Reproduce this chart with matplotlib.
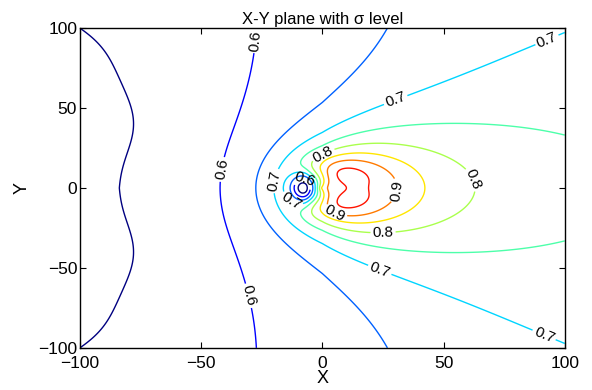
import numpy as np
import matplotlib
matplotlib.use("Agg")
import matplotlib.pyplot as plt
from matplotlib.colors import Normalize


# contour levels and which ones carry a text label
LEVELS = [0.55, 0.60, 0.65, 0.70, 0.75, 0.80, 0.85, 0.90, 0.95, 1.00]
LABEL_LEVELS = [0.60, 0.70, 0.80, 0.90]

# where the labels sit (data coords)
LABEL_X = [-26.6, -26.6, -39.0, -21.6, 30.0, 92.0, 24.0, 92.0, 1.0, 25.0, 60.0, 6.0, 28.0, -8.0, -12.6]
LABEL_Y = [92.0, -66.0, 11.0, 5.0, 56.0, 95.0, -50.0, -90.0, 19.0, -25.0, 4.0, -12.5, -1.0, 2.0, -7.5]

TICKS = [-100, -50, 0, 50, 100]

# sigma field: background ramp + wake source + small dip left of the source
BASE_LEVEL = 0.62
UPSTREAM_SLOPE = 0.0008
DOWNSTREAM_RISE = 0.07
DOWNSTREAM_SCALE = 87.5
SOURCE_STRENGTH = 8.8
SOURCE_CORE = 13.0
WAKE_LENGTH = 32.0
WAKE_SPREAD = 10.0
DIP_DEPTH = 0.48
DIP_CENTER = -6.0
DIP_WIDTH_LEFT = 5.0
DIP_WIDTH_RIGHT = 12.6
DIP_HEIGHT = 7.0
# small ripple on the far-left edge
RIPPLE_OFFSET = -0.0038
RIPPLE_EDGE = 0.0138
RIPPLE_POWER = 5.5
RIPPLE_BUMP = 0.0075
RIPPLE_Y = 40.0
RIPPLE_WIDTH = 23.4
RIPPLE_REACH = 40.0


def sigma_field(x, y):
    r = np.hypot(x, y)
    background = np.where(
        x < 0,
        BASE_LEVEL + UPSTREAM_SLOPE * x,
        BASE_LEVEL + DOWNSTREAM_RISE * np.tanh(x / DOWNSTREAM_SCALE),
    )
    cos_t = np.clip(x / np.maximum(r, 1e-9), 0.0, 1.0)
    wake = WAKE_LENGTH + WAKE_SPREAD * cos_t
    source = SOURCE_STRENGTH / np.sqrt(r ** 2 + SOURCE_CORE ** 2) * np.exp(-(r - x) / wake)
    sx = np.where(x < DIP_CENTER, DIP_WIDTH_LEFT, DIP_WIDTH_RIGHT)
    dip = DIP_DEPTH * np.exp(-0.5 * ((x - DIP_CENTER) / sx) ** 2 - 0.5 * (y / DIP_HEIGHT) ** 2)
    ripple = (
        RIPPLE_OFFSET
        + RIPPLE_EDGE * np.abs(y / 100.0) ** RIPPLE_POWER
        - RIPPLE_BUMP * np.exp(-((np.abs(y) - RIPPLE_Y) / RIPPLE_WIDTH) ** 2)
    ) * np.exp(-((x + 100.0) / RIPPLE_REACH) ** 2)
    return background + source - dip + ripple


def main():
    plt.rcParams["font.family"] = ["Liberation Sans", "DejaVu Sans"]

    xs = np.linspace(-100, 100, 401)
    ys = np.linspace(-100, 100, 401)
    X, Y = np.meshgrid(xs, ys)
    Z = sigma_field(X, Y)

    fig = plt.figure(figsize=(5.92, 3.9), dpi=100)
    ax = fig.add_axes([0.135, 0.108, 0.819, 0.820])

    norm = Normalize(vmin=min(LEVELS), vmax=max(LEVELS))
    plain_levels = [lv for lv in LEVELS if lv not in LABEL_LEVELS]

    ax.contour(X, Y, Z, levels=plain_levels, cmap="jet", norm=norm, linewidths=1.0)
    cs = ax.contour(X, Y, Z, levels=LABEL_LEVELS, cmap="jet", norm=norm, linewidths=1.0)
    ax.clabel(
        cs,
        manual=list(zip(LABEL_X, LABEL_Y)),
        inline=True,
        inline_spacing=2,
        fmt="%.1f",
        fontsize=11,
        colors="black",
    )

    ax.set_xlim(-100, 100)
    ax.set_ylim(-100, 100)
    ax.set_xticks(TICKS)
    ax.set_yticks(TICKS)
    ax.tick_params(direction="in", length=4, width=0.8, labelsize=12.5,
                   top=True, right=True)
    ax.tick_params(axis="x", pad=6)
    ax.tick_params(axis="y", pad=2)
    for spine in ax.spines.values():
        spine.set_linewidth(1.0)

    ax.set_xlabel("X", fontsize=13, labelpad=-1)
    ax.set_ylabel("Y", fontsize=13, labelpad=5)
    ax.set_title("X-Y plane with σ level", fontsize=12, pad=3)

    fig.savefig("out.png", dpi=100)
    plt.close(fig)


if __name__ == "__main__":
    main()
